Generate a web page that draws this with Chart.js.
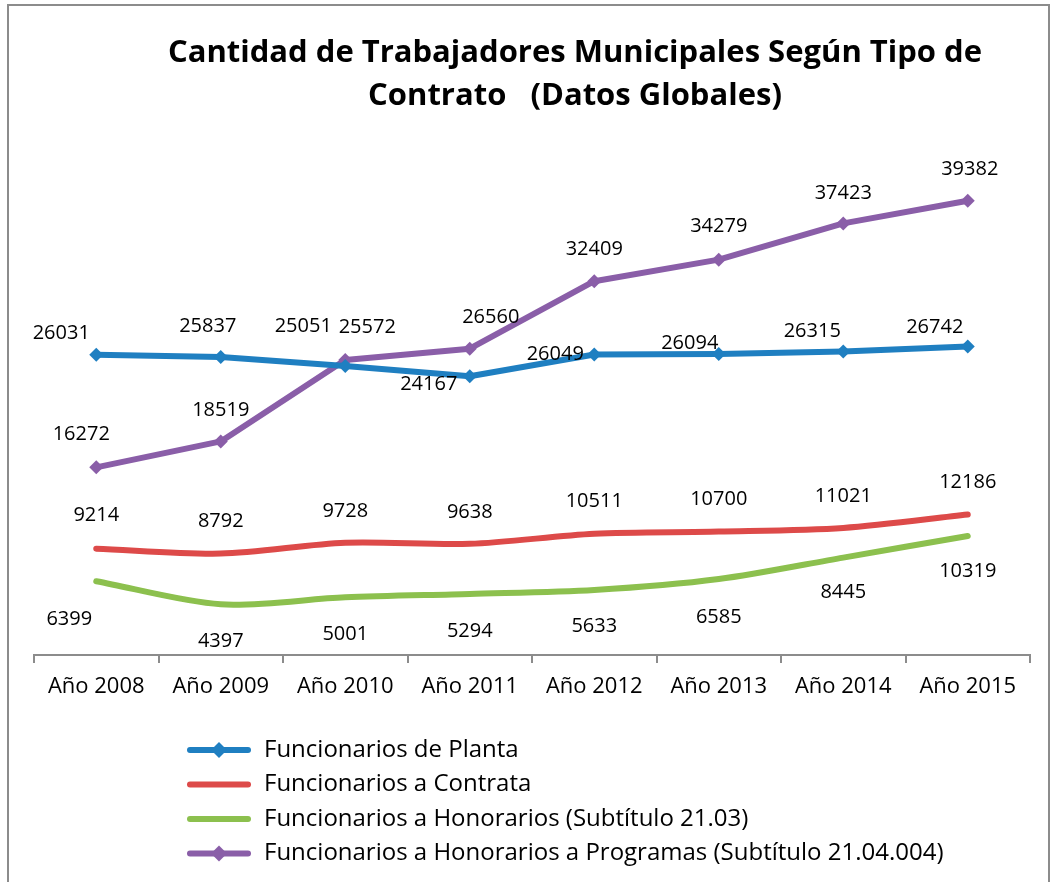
<!DOCTYPE html>
<html>
<head>
<meta charset="utf-8">
<script src="https://cdn.jsdelivr.net/npm/chart.js@4/dist/chart.umd.min.js"></script>
<style>
  html, body { margin: 0; padding: 0; background: #fff; }
  #wrap { position: relative; width: 1056px; height: 882px; }
  #frame { position: absolute; left: 7px; top: 4px; width: 1043px; height: 890px; border: 2px solid #8c8c8c; box-sizing: border-box; }
</style>
</head>
<body>
<div id="wrap">
  <div id="frame"></div>
  <canvas id="chart" width="1056" height="882"></canvas>
</div>
<script>
// 年
const years = ['Año 2008', 'Año 2009', 'Año 2010', 'Año 2011', 'Año 2012', 'Año 2013', 'Año 2014', 'Año 2015'];

// 系列ごとの値
const planta = [26031, 25837, 25051, 24167, 26049, 26094, 26315, 26742];
const contrata = [9214, 8792, 9728, 9638, 10511, 10700, 11021, 12186];
const honorarios = [6399, 4397, 5001, 5294, 5633, 6585, 8445, 10319];
const programas = [16272, 18519, 25572, 26560, 32409, 34279, 37423, 39382];

const seriesNames = [
    'Funcionarios de Planta',
    'Funcionarios a Contrata',
    'Funcionarios a Honorarios (Subtítulo 21.03)',
    'Funcionarios a Honorarios a Programas (Subtítulo 21.04.004)'
];

const titleLines = ['Cantidad de Trabajadores Municipales Según Tipo de', 'Contrato   (Datos Globales)'];

const FONT = "'Open Sans', 'Noto Sans', sans-serif";

// ラベルの位置ずらし (dx, dy) 系列ごと
const labelOffsets = [
    [[-35, -21], [-13, -31], [-42, -40], [-41, 8], [-39, 0], [-29, -11], [-31, -20], [-33, -19]],
    [[0, -33], [0, -32], [0, -32], [0, -32], [0, -32], [0, -32], [0, -32], [0, -32]],
    [[-27, 38], [0, 37], [0, 37], [0, 37], [0, 36], [0, 38], [0, 35], [0, 35]],
    [[-15, -33], [0, -31], [22, -33], [21, -31], [0, -32], [0, -33], [0, -30], [2, -31]]
];

/**
 * データラベル・タイトル・凡例を描くプラグイン
 */
const decorPlugin = {
    id: 'decor',
    afterDatasetsDraw(chart) {
        const ctx = chart.ctx;
        ctx.save();
        ctx.fillStyle = '#000';
        ctx.font = `20px ${FONT}`;
        ctx.textAlign = 'center';
        ctx.textBaseline = 'middle';
        chart.data.datasets.forEach((ds, i) => {
            const meta = chart.getDatasetMeta(i);
            meta.data.forEach((pt, j) => {
                const off = labelOffsets[i][j];
                ctx.fillText(String(ds.data[j]), pt.x + off[0], pt.y + off[1]);
            });
        });
        ctx.restore();
    },
    afterDraw(chart) {
        const ctx = chart.ctx;
        ctx.save();
        // タイトル
        ctx.fillStyle = '#000';
        ctx.font = `bold 31px ${FONT}`;
        ctx.textAlign = 'center';
        ctx.textBaseline = 'middle';
        titleLines.forEach((t, i) => ctx.fillText(t, 575, 53 + i * 43));

        // 凡例
        ctx.font = `24px ${FONT}`;
        ctx.textAlign = 'left';
        chart.data.datasets.forEach((ds, i) => {
            const y = 750 + i * 34.5;
            ctx.strokeStyle = ds.borderColor;
            ctx.lineWidth = 6;
            ctx.lineCap = 'round';
            ctx.beginPath();
            ctx.moveTo(190, y);
            ctx.lineTo(248, y);
            ctx.stroke();
            if (ds.pointRadius > 0) {
                ctx.fillStyle = ds.borderColor;
                ctx.beginPath();
                ctx.moveTo(219, y - 8);
                ctx.lineTo(227, y);
                ctx.lineTo(219, y + 8);
                ctx.lineTo(211, y);
                ctx.closePath();
                ctx.fill();
            }
            ctx.fillStyle = '#000';
            ctx.fillText(ds.label, 264, y);
        });
        ctx.restore();
    }
};

function makeDataset(label, data, color, withMarker, tension) {
    return {
        label: label,
        data: data,
        borderColor: color,
        backgroundColor: color,
        borderWidth: 6,
        borderCapStyle: 'round',
        borderJoinStyle: 'round',
        pointStyle: 'rectRot',
        pointRadius: withMarker ? 7 : 0,
        pointHoverRadius: withMarker ? 7 : 0,
        pointBorderWidth: 0,
        tension: tension,
        fill: false
    };
}

const ctx = document.getElementById('chart').getContext('2d');

new Chart(ctx, {
    type: 'line',
    data: {
        labels: years,
        datasets: [
            makeDataset(seriesNames[0], planta, '#1f7fc1', true, 0),
            makeDataset(seriesNames[1], contrata, '#dd4a49', false, 0.3),
            makeDataset(seriesNames[2], honorarios, '#8cc04e', false, 0.3),
            makeDataset(seriesNames[3], programas, '#8a5ea8', true, 0)
        ]
    },
    options: {
        responsive: false,
        animation: false,
        layout: {
            padding: { left: 34, right: 26, top: 136, bottom: 167 }
        },
        scales: {
            x: {
                offset: true,
                grid: {
                    display: true,
                    offset: true,
                    drawOnChartArea: false,
                    drawTicks: true,
                    tickLength: 8,
                    color: '#8c8c8c',
                    lineWidth: 2
                },
                border: { display: true, color: '#8c8c8c', width: 2 },
                ticks: {
                    color: '#000',
                    padding: 11,
                    maxRotation: 0,
                    autoSkip: false,
                    font: { family: FONT, size: 22 }
                },
                afterFit(scale) { scale.height = 60; }
            },
            y: {
                display: false,
                min: 0,
                max: 45000
            }
        },
        plugins: {
            legend: { display: false },
            title: { display: false },
            tooltip: { enabled: false }
        }
    },
    plugins: [decorPlugin]
});
</script>
</body>
</html>
